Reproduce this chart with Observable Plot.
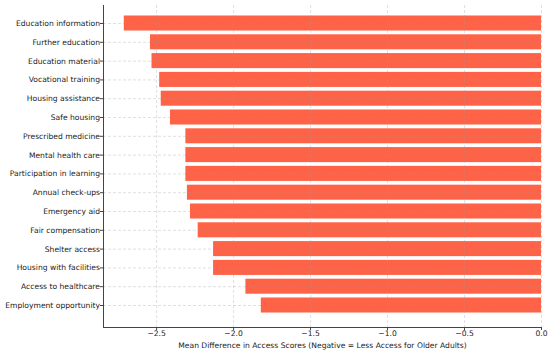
<!DOCTYPE html>
<html><head><meta charset="utf-8">
<script src="https://cdn.jsdelivr.net/npm/d3@7"></script>
<script src="https://cdn.jsdelivr.net/npm/@observablehq/plot@0.6"></script>
<style>body{margin:0;background:#fff}</style>
</head><body><div id="chart"></div>
<script>
const categories = [
  "Education information", "Further education", "Education material", "Vocational training",
  "Housing assistance", "Safe housing", "Prescribed medicine", "Mental health care",
  "Participation in learning", "Annual check-ups", "Emergency aid", "Fair compensation",
  "Shelter access", "Housing with facilities", "Access to healthcare", "Employment opportunity"
];
const values = [-2.71, -2.54, -2.53, -2.48, -2.47, -2.41, -2.31, -2.31,
  -2.31, -2.30, -2.28, -2.23, -2.13, -2.13, -1.92, -1.82];
const xTicks = [-2.5, -2.0, -1.5, -1.0, -0.5, 0.0];
const xLabel = "Mean Difference in Access Scores (Negative = Less Access for Older Adults)";

const data = categories.map((c, i) => ({category: c, value: values[i]}));

const chart = Plot.plot({
  width: 550, height: 351,
  marginLeft: 103, marginRight: 9, marginTop: 5, marginBottom: 24,
  style: {fontFamily: "DejaVu Sans", fontSize: "7.6px", color: "#222", background: "#fff"},
  x: {domain: [-2.845, 0]},
  y: {type: "band", domain: categories, insetTop: 8.6, insetBottom: 12.6, paddingInner: 0.2, paddingOuter: 0.1, round: false},
  marks: [
    Plot.barX(data, {x: "value", y: "category", fill: "#ff6347"}),
    Plot.gridX(xTicks, {stroke: "#999", strokeOpacity: 0.3, strokeDasharray: "3,2"}),
    Plot.gridY(categories, {stroke: "#999", strokeOpacity: 0.3, strokeDasharray: "3,2"}),
    Plot.axisX(xTicks, {tickFormat: d3.format(".1f"), tickSize: 3, tickPadding: 0.5, stroke: "#444",
      label: xLabel, labelAnchor: "center", labelArrow: "none", labelOffset: 20}),
    Plot.axisY({tickSize: 3, tickPadding: 0.5, label: null, stroke: "#444"}),
    Plot.frame({anchor: "left", stroke: "#444"}),
    Plot.frame({anchor: "bottom", stroke: "#444"})
  ]
});
document.getElementById("chart").append(chart);
</script>
</body></html>
